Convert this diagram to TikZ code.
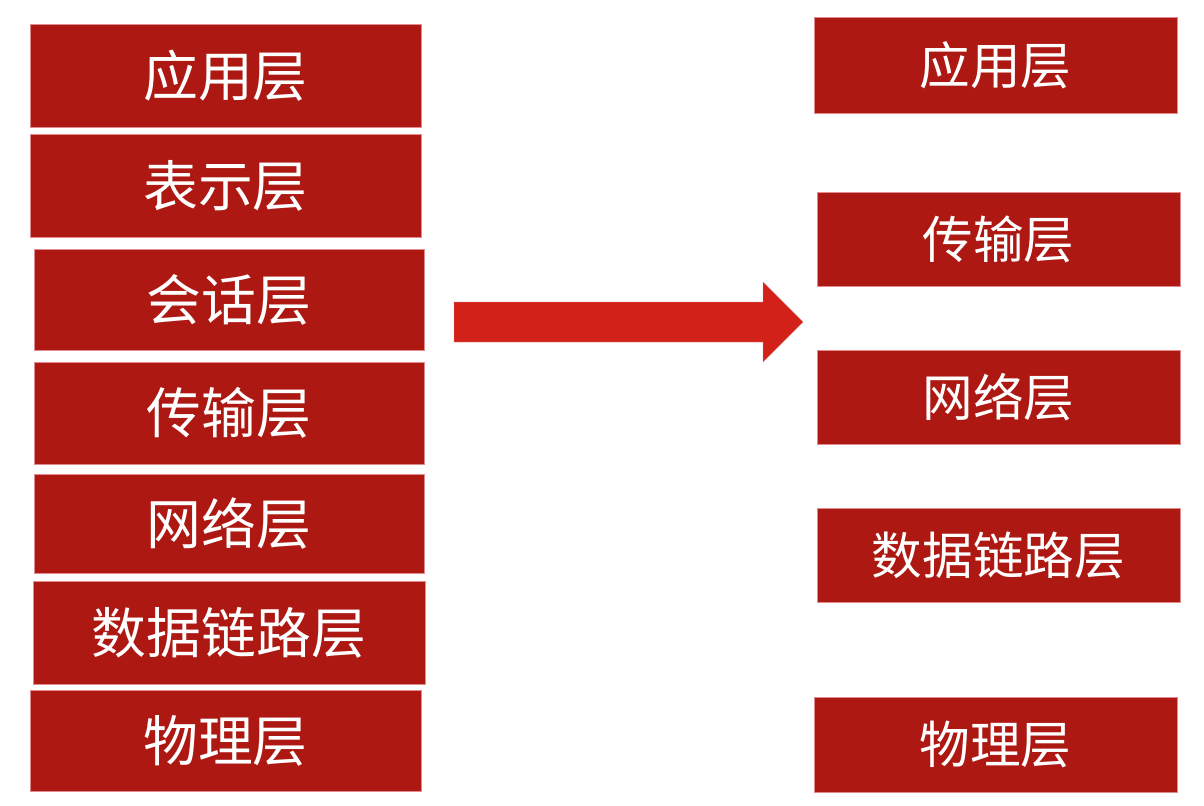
\documentclass[tikz,border=0pt]{standalone}
\usepackage{fontspec}
\newfontfamily\cjk{Noto Sans CJK SC}
\definecolor{boxred}{RGB}{173,25,18}
\definecolor{arrowred}{RGB}{210,33,24}
\definecolor{edgepink}{RGB}{225,140,140}
\tikzset{
  layerbox/.style={rectangle, fill=boxred, draw=edgepink, line width=0.4pt, inner sep=0pt, text=white},
  lefttext/.style={font=\cjk\fontsize{78}{80}\selectfont},
  righttext/.style={font=\cjk\fontsize{72}{76}\selectfont},
}
\newcommand\layerat[7]{\node[layerbox,#6,minimum width={#4*0.05cm},minimum height={#5*0.05cm}] (#1) at (#2,#3) {#7};}
\begin{document}
\begin{tikzpicture}[x=0.05cm, y=-0.05cm]
\fill[white] (0,0) rectangle (1204,806);
\useasboundingbox (0,0) rectangle (1204,806);
% left stack
\layerat{l1}{225.5}{75.5}{391}{103}{lefttext}{应用层}
\layerat{l2}{225.5}{185.5}{391}{103}{lefttext}{表示层}
\layerat{l3}{229}{299.5}{390}{101}{lefttext}{会话层}
\layerat{l4}{229}{413}{390}{102}{lefttext}{传输层}
\layerat{l5}{229}{523.5}{390}{99}{lefttext}{网络层}
\layerat{l6}{229}{632.5}{392}{103}{lefttext}{数据链路层}
\layerat{l7}{225.5}{740.5}{391}{101}{lefttext}{物理层}
% right stack
\layerat{r1}{995.5}{65}{363}{96}{righttext}{应用层}
\layerat{r2}{998.5}{239}{363}{94}{righttext}{传输层}
\layerat{r3}{998.5}{397}{363}{94}{righttext}{网络层}
\layerat{r4}{998.5}{555}{363}{94}{righttext}{数据链路层}
\layerat{r5}{995.5}{744.5}{363}{95}{righttext}{物理层}
% block arrow
\fill[arrowred, draw=edgepink, line width=0.3pt]
  (454,302) -- (763,302) -- (763,282) -- (803,322) -- (763,362) -- (763,342) -- (454,342) -- cycle;
\end{tikzpicture}
\end{document}
